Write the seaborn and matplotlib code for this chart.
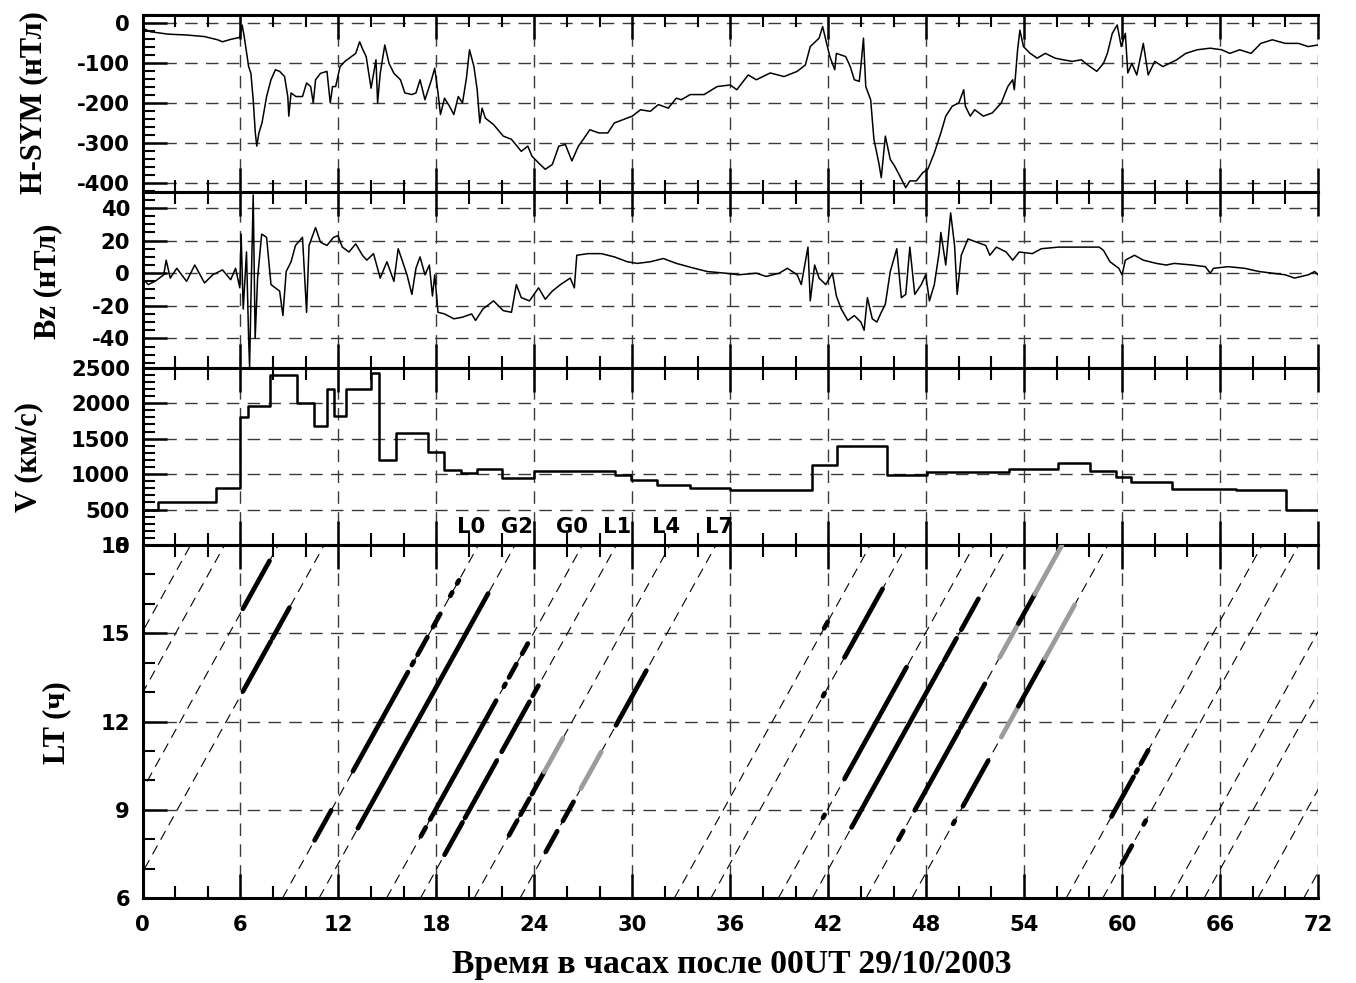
import numpy as np
import pandas as pd
import matplotlib
matplotlib.use("Agg")
import matplotlib.pyplot as plt
import seaborn as sns
from matplotlib.ticker import MultipleLocator, FixedLocator

sns.set_style("ticks")
plt.rcParams["font.family"] = ["DejaVu Sans"]
plt.rcParams["axes.unicode_minus"] = False
for k in ["text.color", "axes.labelcolor", "xtick.color", "ytick.color", "axes.edgecolor"]:
    plt.rcParams[k] = "black"

# ---------------- data ----------------
hsym_t = [0, 0.5, 1.6, 2.7, 3.8, 4.6, 4.9, 5.4, 5.95, 6.1, 6.23, 6.5, 6.64, 6.78, 6.91, 7.0, 7.13, 7.32, 7.6, 7.87,
          8.14, 8.4, 8.7, 8.9, 8.96, 9.1, 9.4, 9.8, 10.05, 10.3, 10.46, 10.6, 10.9, 11.3, 11.5, 11.64, 11.83, 12.1,
          12.4, 12.8, 13.06, 13.3, 13.5, 13.7, 14.0, 14.3, 14.4, 14.56, 14.84, 15.1, 15.4, 15.8, 16.07, 16.5, 16.75,
          17.0, 17.3, 17.7, 17.9, 18.1, 18.25, 18.5, 18.8, 19.07, 19.34, 19.6, 19.84, 20.03, 20.3, 20.5, 20.66, 20.8,
          21.0, 21.5, 22.1, 22.6, 23.2, 23.6, 23.85, 24.26, 24.67, 25.1, 25.5, 25.9, 26.3, 26.7, 27.0, 27.4, 27.95,
          28.5, 28.9, 30.0, 30.5, 31.1, 31.6, 32.2, 32.7, 33.0, 33.55, 34.4, 35.2, 36.0, 36.4, 37.1, 37.6, 38.45,
          39.3, 40.1, 40.6, 40.9, 41.44, 41.66, 41.85, 42.1, 42.4, 42.5, 43.07, 43.35, 43.6, 43.9, 44.0, 44.16,
          44.3, 44.6, 44.8, 45.1, 45.25, 45.5, 45.8, 46.07, 46.34, 46.75, 47.0, 47.4, 47.8, 48.1, 48.5, 48.9, 49.2,
          49.6, 50.0, 50.3, 50.4, 50.7, 50.97, 51.5, 52.05, 52.6, 53.0, 53.3, 53.4, 53.6, 53.74, 53.96, 54.37, 54.8,
          55.3, 55.9, 56.4, 56.95, 57.5, 57.9, 58.45, 58.86, 59.1, 59.4, 59.7, 59.95, 60.2, 60.35, 60.6, 60.9, 61.3,
          61.6, 62.0, 62.5, 62.9, 63.35, 63.9, 64.6, 65.4, 66.1, 66.6, 67.2, 67.9, 68.5, 69.2, 70.0, 70.8, 71.4, 72.0]
hsym_v = [-12, -21, -27, -29, -33, -41, -46, -40, -35, -4, -33, -108, -125, -191, -274, -307, -274, -249, -183, -141,
          -116, -120, -133, -183, -232, -174, -183, -183, -149, -158, -199, -141, -125, -120, -199, -158, -158, -108,
          -95, -83, -75, -46, -66, -83, -162, -91, -199, -125, -54, -100, -125, -141, -174, -178, -174,
          -141, -191, -141, -112, -174, -228, -187, -207, -228, -183, -199, -137, -66, -108, -166, -249, -212,
          -237, -253, -282, -290, -320, -307, -332, -349, -365, -353, -307, -303, -344, -307, -290, -266, -274,
          -274, -249, -232, -216, -220, -203, -212, -187, -191, -178, -178, -158, -154, -166, -129, -141, -124,
          -133, -120, -104, -58, -37, -8, -41, -83, -116, -75, -83, -108, -141, -145, -108, -37,
          -158, -191, -290, -349, -386, -282, -340, -357, -378, -411, -394, -394, -373, -365, -324, -274, -232,
          -207, -199, -166, -207, -232, -216, -232, -224, -199, -158, -141, -166, -66, -17, -58, -75, -87,
          -75, -87, -91, -95, -91, -104, -120, -100, -75, -25, -4, -58, -25, -124, -100, -129, -50,
          -129, -95, -108, -100, -91, -75, -66, -62, -66, -75, -66, -75, -50, -41, -50, -50, -58, -54]

bz_t = [0, 0.35, 0.77, 1.3, 1.45, 1.7, 2.1, 2.7, 3.2, 3.8, 4.3, 4.9, 5.4, 5.7, 5.96, 6.04, 6.17, 6.37, 6.5, 6.56,
        6.64, 6.78, 6.9, 7.05, 7.3, 7.6, 7.87, 8.14, 8.4, 8.6, 8.8, 9.1, 9.37, 9.8, 10.05, 10.2, 10.6, 10.9, 11.3,
        11.7, 11.97, 12.24, 12.65, 13.06, 13.47, 13.74, 14.15, 14.56, 14.97, 15.4, 15.66, 15.9, 16.2, 16.5, 16.75,
        17.0, 17.3, 17.57, 17.76, 17.9, 18.1, 18.5, 19.07, 19.6, 20.16, 20.4, 20.85, 21.5, 22.1, 22.6, 22.9, 23.2,
        23.7, 24.26, 24.67, 25.1, 25.6, 26.2, 26.45, 26.6, 27.3, 28.1, 28.9, 29.7, 30.3, 31.1, 31.9, 32.7, 33.8,
        34.6, 35.7, 36.5, 37.6, 38.2, 39.0, 39.5, 40.1, 40.35, 40.76, 40.9, 41.17, 41.44, 41.85, 42.26, 42.5, 42.8,
        43.2, 43.6, 44.0, 44.2, 44.4, 44.7, 44.98, 45.25, 45.5, 45.8, 46.2, 46.48, 46.75, 47.0, 47.3, 47.7, 47.97,
        48.2, 48.5, 48.8, 48.9, 49.2, 49.5, 49.74, 49.9, 50.15, 50.56, 51.1, 51.65, 51.9, 52.3, 52.9, 53.3, 53.7,
        54.5, 55.05, 56.1, 57.5, 58.6, 58.86, 59.26, 59.8, 60.0, 60.2, 60.76, 61.3, 62.1, 62.7, 63.2, 64.3, 65.1,
        65.4, 65.6, 66.5, 67.5, 68.4, 69.2, 70.0, 70.56, 71.4, 71.8, 72.0]
bz_v = [-3, -7, -5, -1, 8, -3, 3, -5, 5, -6, -1, 2, -4, 3, -9, 24, -22, 13, -40, -58,
        -17, 48, -40, -3, 24, 22, -7, -9, -11, -26, 1, 7, 17, 22, -24, 17, 28, 19, 17,
        22, 23, 16, 13, 18, 11, 8, 12, -3, 7, -5, 15, 8, -1, -13, 3,
        10, -1, 5, -14, -1, -24, -25, -28, -27, -25, -29, -22, -17, -23, -24, -7, -15,
        -17, -9, -16, -11, -7, -3, -9, 11, 12, 12, 10, 7, 6, 7, 9, 6, 3,
        1, 0, -1, 0, -2, 0, 3, -1, -7, 16, -17, 5, -3, -7, 0, -14, -22,
        -29, -26, -30, -35, -15, -28, -30, -24, -19, 1, 15, -15, -13, 16, -13, -7, -1,
        -17, -7, 13, 25, 5, 37, 17, -13, 11, 21, 19, 17, 11, 16, 13, 8, 13,
        12, 15, 16, 16, 16, 14, 7, 3, -1, 8, 11, 8, 6, 5, 6, 5, 4,
        0, 3, 4, 3, 1, 0, -1, -3, -1, 1, -1]

# solar wind speed: step start times (last entry = end of record) and values
v_t = [0, 0.96, 4.5, 6.0, 6.45, 7.8, 9.45, 10.5, 11.3, 11.75, 12.46, 14.0, 14.5, 15.5, 17.5, 18.47, 19.5, 20.5,
       22.0, 24.0, 25.9, 28.96, 29.95, 31.5, 33.55, 36.0, 39.05, 41.03, 42.53, 45.58, 48.05, 53.06, 56.05, 58.04,
       59.6, 60.55, 63.07, 67.0, 70.07, 72.0]
v_v = [500, 610, 800, 1800, 1960, 2400, 2000, 1680, 2200, 1820, 2200, 2430, 1200, 1580, 1310, 1060, 1020, 1075,
       950, 1040, 1050, 990, 910, 850, 810, 770, 780, 1125, 1395, 985, 1030, 1075, 1160, 1050,
       955, 885, 785, 770, 490, 490]

# stations: LT = UT + offset (mod 24)
stations = ["L0", "G2", "G0", "L1", "L4", "L7"]
lt_offset = [-2.58, -4.82, -8.95, -11.03, -14.32, -17.13]
label_t = [20.1, 22.93, 26.3, 29.1, 32.05, 35.3]
label_v = 260

# observed intervals on each station track: (station, UT start, UT end, kind)
seg_station = ["L4", "L4", "L4", "L4", "L4", "L4", "L4", "L4", "L4", "L4", "L4",
               "L7", "L7", "L7", "L7", "L7", "L7", "L7", "L7", "L7", "L7", "L7", "L7",
               "L0", "L0", "L0", "L0", "L0", "L0", "L0", "L0", "L0", "L0", "L0",
               "G2", "G2", "G2", "G2", "G2", "G2",
               "G0", "G0", "G0", "G0", "G0", "G0", "G0",
               "L1", "L1", "L1", "L1", "L1", "L1", "L1"]
seg_start = [6.15, 22.45, 23.15, 23.85, 24.6, 46.3, 47.3, 50.1, 52.5, 53.65, 54.65,
             6.15, 7.95, 24.7, 25.05, 25.75, 26.85, 29.0, 49.65, 50.25, 52.6, 53.65, 55.27,
             10.54, 12.89, 16.5, 16.85, 17.79, 18.85, 19.27, 41.75, 59.35, 60.85, 61.15,
             13.19, 41.68, 43.0, 60.0, 60.38, 61.32,
             17.05, 17.62, 22.13, 22.45, 23.25, 41.68, 43.0,
             18.5, 19.75, 22.0, 23.9, 43.43, 49.1, 50.15]
seg_end = [7.78, 22.95, 23.7, 24.6, 25.75, 46.6, 50.0, 51.6, 53.65, 54.65, 56.32,
           7.85, 9.0, 25.0, 25.4, 26.4, 28.1, 30.86, 49.75, 51.8, 53.65, 55.27, 57.1,
           11.56, 16.26, 16.62, 17.45, 18.24, 18.97, 19.38, 41.97, 60.7, 60.95, 61.6,
           21.17, 41.78, 45.33, 60.3, 60.6, 61.45,
           17.35, 21.66, 22.23, 22.9, 23.6, 41.78, 46.8,
           19.6, 21.7, 23.7, 24.25, 49.0, 49.86, 51.2]
seg_kind = ["b", "b", "b", "b", "g", "b", "b", "b", "g", "b", "g",
            "b", "b", "b", "b", "b", "g", "b", "b", "b", "g", "b", "g",
            "b", "b", "b", "b", "b", "b", "b", "b", "b", "b", "b",
            "b", "b", "b", "b", "b", "b",
            "b", "b", "b", "b", "b", "b", "b",
            "b", "b", "b", "b", "b", "b", "b"]

# ---------------- figure ----------------
W, H = 1356, 983
fig = plt.figure(figsize=(W / 100, H / 100), dpi=100)
xl, xr = 142.5, 1318
bounds = [15, 191.7, 367.7, 545, 898]
axes = []
for i in range(4):
    top, bot = bounds[i], bounds[i + 1]
    ax = fig.add_axes([xl / W, 1 - bot / H, (xr - xl) / W, (bot - top) / H])
    axes.append(ax)
ax1, ax2, ax3, ax4 = axes

TICK_FS = 15.2
TICK_FAMILY = "DejaVu Sans"
lab_font = dict(family="Liberation Serif", weight="bold", size=22, color="black")
grid_kw = dict(color="#3a3a3a", lw=1.0, linestyle=(0, (9, 6)))

for ax in axes:
    ax.set_xlim(0, 72)
    ax.xaxis.set_major_locator(MultipleLocator(6))
    ax.xaxis.set_minor_locator(MultipleLocator(2))
    ax.tick_params(axis="both", which="major", direction="in", length=17, width=1.8,
                   top=True, bottom=True, left=True, right=False, labelsize=TICK_FS, colors="black")
    ax.tick_params(axis="both", which="minor", direction="in", length=8.5, width=1.5,
                   top=True, bottom=True, left=True, right=False, colors="black")
    ax.tick_params(axis="x", labelbottom=False)
    for s in ["left", "top", "bottom"]:
        ax.spines[s].set_linewidth(2.2)
        ax.spines[s].set_color("black")
    ax.spines["right"].set_visible(False)
    ax.set_facecolor("white")
    for xv in range(6, 73, 6):
        ax.axvline(xv, zorder=0.5, **grid_kw)

# Panel 1: H-SYM
sns.lineplot(x=hsym_t, y=hsym_v, ax=ax1, color="black", lw=1.1, estimator=None, sort=False)
ax1.set_ylim(-421, 21)
ax1.yaxis.set_major_locator(FixedLocator([0, -100, -200, -300, -400]))
ax1.yaxis.set_minor_locator(MultipleLocator(20))
for yv in [0, -100, -200, -300, -400]:
    ax1.axhline(yv, zorder=0.5, **grid_kw)

# Panel 2: Bz
sns.lineplot(x=bz_t, y=bz_v, ax=ax2, color="black", lw=1.1, estimator=None, sort=False)
ax2.set_ylim(-58, 50)
ax2.yaxis.set_major_locator(FixedLocator([40, 20, 0, -20, -40]))
ax2.yaxis.set_minor_locator(MultipleLocator(5))
for yv in [40, 20, 0, -20, -40]:
    ax2.axhline(yv, zorder=0.5, **grid_kw)

# Panel 3: V
sns.lineplot(x=v_t, y=v_v, ax=ax3, color="black", lw=1.8, estimator=None, sort=False, drawstyle="steps-post")
ax3.set_ylim(0, 2500)
ax3.yaxis.set_major_locator(FixedLocator([0, 500, 1000, 1500, 2000, 2500]))
ax3.yaxis.set_minor_locator(MultipleLocator(100))
for yv in [500, 1000, 1500, 2000]:
    ax3.axhline(yv, zorder=0.5, **grid_kw)
for name, tx in zip(stations, label_t):
    ax3.text(tx, label_v, name, ha="center", va="center", fontsize=TICK_FS, fontweight="bold",
             family=TICK_FAMILY, color="black")

# Panel 4: LT tracks
ax4.set_ylim(6, 18)
ax4.yaxis.set_major_locator(FixedLocator([6, 9, 12, 15, 18]))
ax4.yaxis.set_minor_locator(MultipleLocator(1))
for yv in [9, 12, 15]:
    ax4.axhline(yv, zorder=0.5, **grid_kw)
off_map = dict(zip(stations, lt_offset))
for st, off in off_map.items():
    t6 = (6 - off) % 24
    for k in range(-1, 4):
        a = t6 + 24 * k
        ax4.plot([a, a + 12], [6, 18], color="black", lw=0.8, linestyle=(0, (9, 6)), zorder=1)
for st, a, b, kind in zip(seg_station, seg_start, seg_end, seg_kind):
    off = off_map[st]
    la = (a + off) % 24
    lb = la + (b - a)
    sns.lineplot(x=[a, b], y=[la, lb], ax=ax4, color="black" if kind == "b" else "#9c9c9c",
                 lw=3.4, estimator=None, sort=False, solid_capstyle="round", zorder=3)
ax4.tick_params(axis="x", labelbottom=True, pad=12)

for ax in axes:
    ax.set_xlabel("")
    ax.set_ylabel("")
    for lab in ax.get_yticklabels() + ax.get_xticklabels():
        lab.set_fontweight("bold")
        lab.set_family(TICK_FAMILY)
        lab.set_color("black")
    ax.tick_params(axis="y", pad=9)

fig.text(34 / W, 1 - 103 / H, "H-SYM (нТл)", rotation=90, ha="center", va="center", **lab_font)
fig.text(48 / W, 1 - 281 / H, "Bz (нТл)", rotation=90, ha="center", va="center", **lab_font)
fig.text(29 / W, 1 - 457 / H, "V (км/с)", rotation=90, ha="center", va="center", **lab_font)
fig.text(57 / W, 1 - 723 / H, "LT (ч)", rotation=90, ha="center", va="center", **lab_font)
fig.text(732 / W, 1 - 965 / H, "Время в часах после 00UT 29/10/2003", ha="center", va="center",
         family="Liberation Serif", weight="bold", size=24.2, color="black")

fig.savefig("out.png", dpi=100, facecolor="white")
